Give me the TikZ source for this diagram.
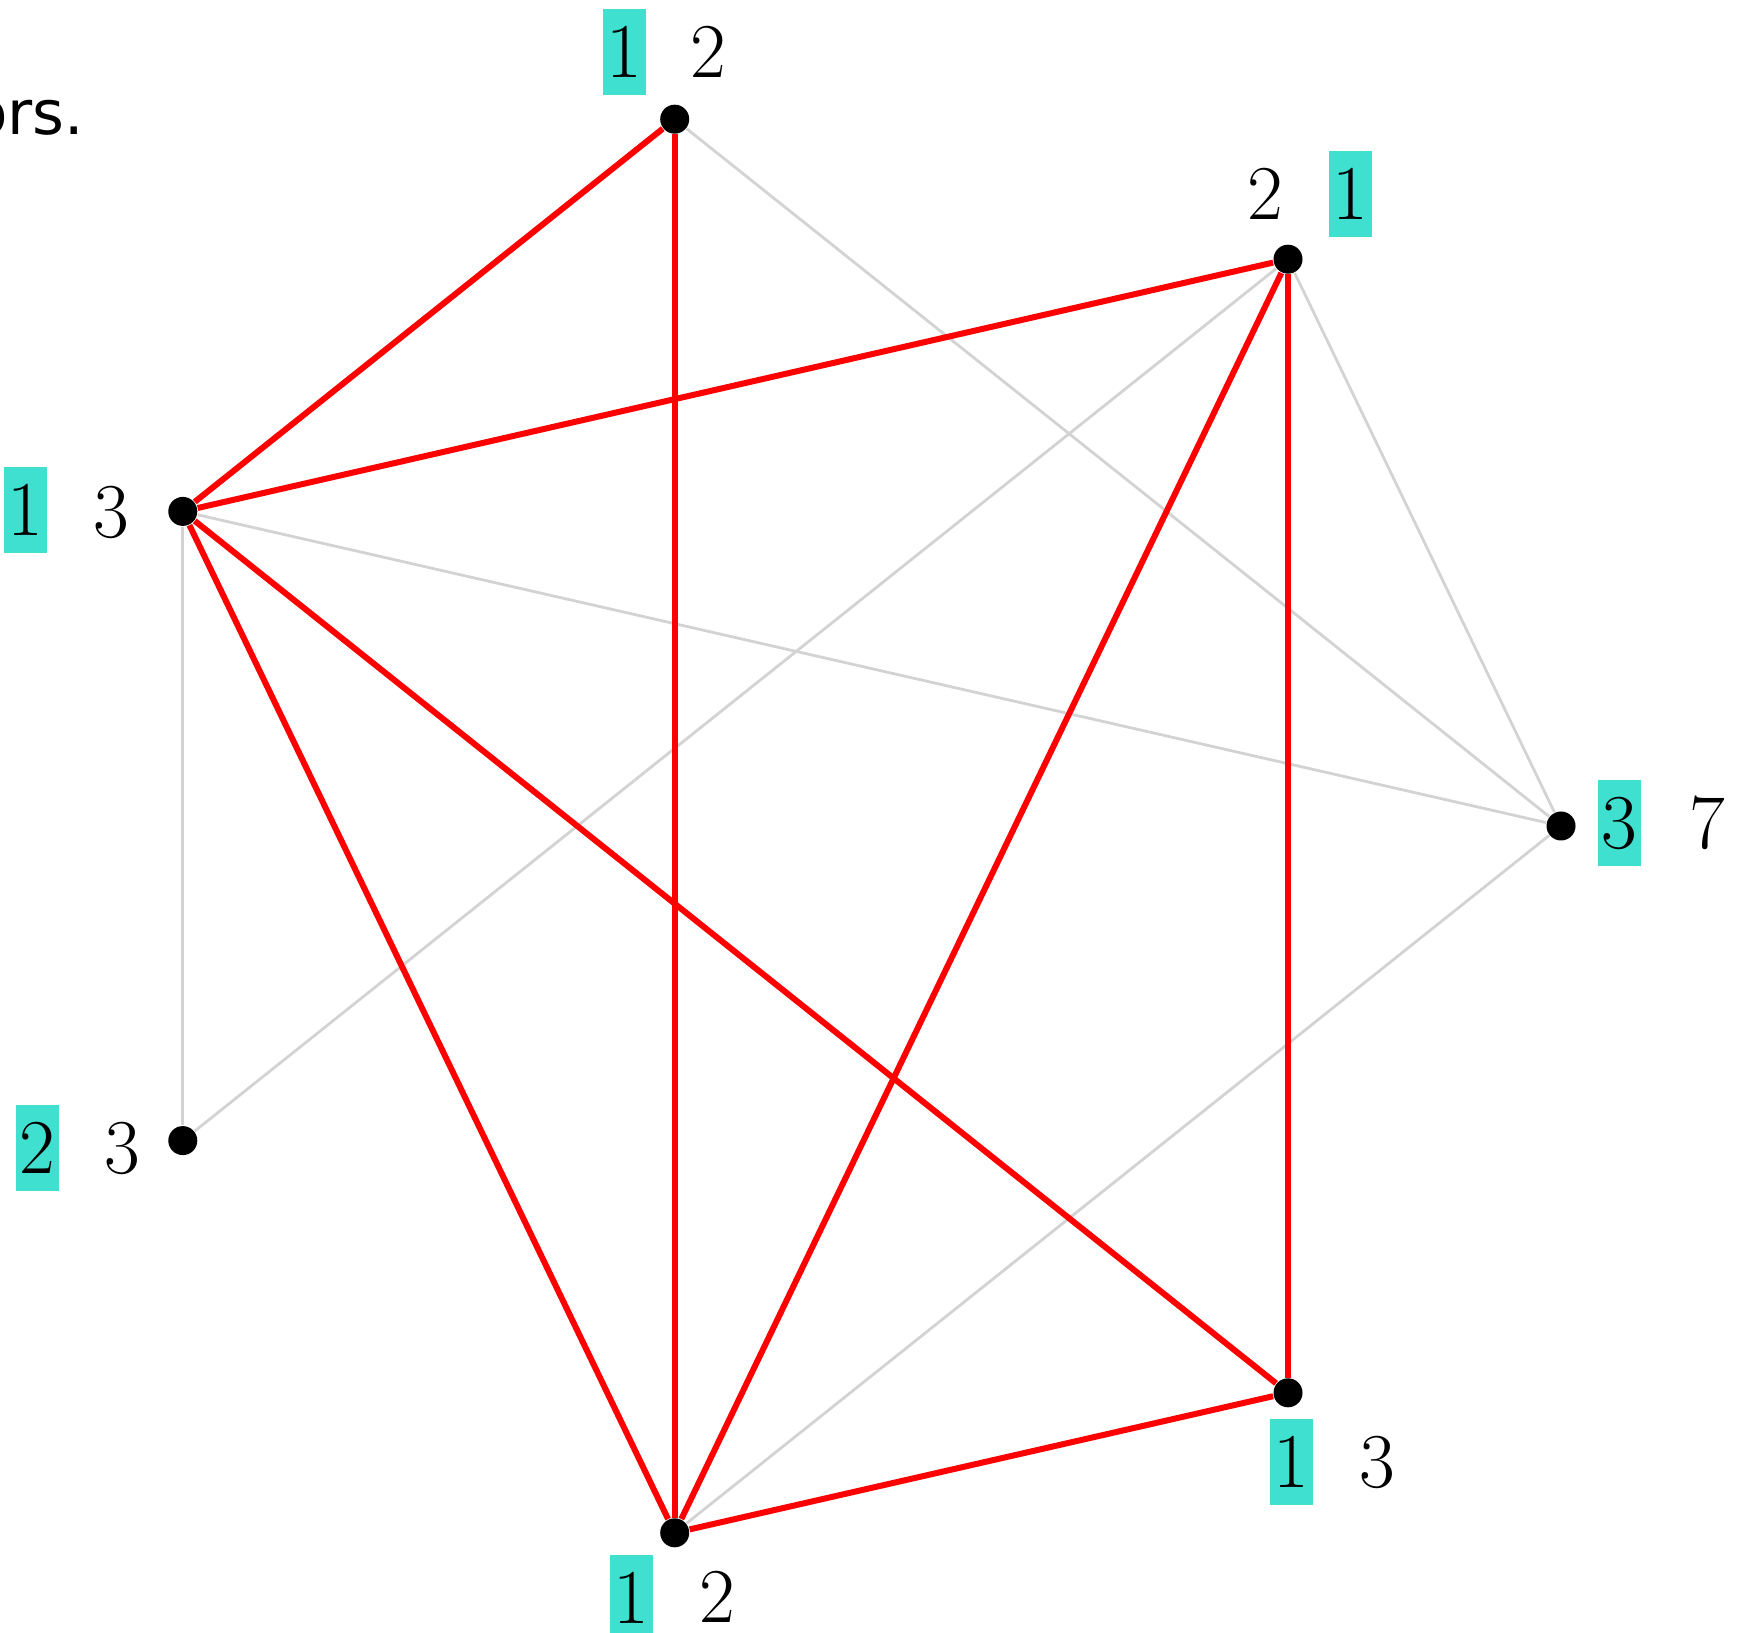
\documentclass[tikz,border=0pt]{standalone}
\usepackage{fontspec}
\newfontfamily\dejavu{DejaVu Sans}
\definecolor{boxcyan}{RGB}{64,224,208}
\definecolor{edgegray}{RGB}{211,211,211}
\begin{document}
\begin{tikzpicture}[x=0.25pt,y=-0.25pt,
  dot/.style={circle,fill=black,inner sep=0pt,minimum size=7.25pt},
  redge/.style={draw=red,line width=1.5pt},
  gedge/.style={draw=edgegray,line width=0.7pt},
  numlabel/.style={inner sep=0pt,font=\fontsize{19.4}{23}\selectfont},
  boxlabel/.style={numlabel,fill=boxcyan,minimum width=10.75pt,minimum height=21.5pt}]
\useasboundingbox (0,0) rectangle (1742,1633);
\clip (0,0) rectangle (1742,1633);
% caption fragment
\node[anchor=base east,inner sep=0pt,font=\dejavu\fontsize{15.3}{18}\selectfont] (cap) at (85,135) {ors.};
% vertices
\node[dot] (D) at (1561,826) {};
\node[dot] (B) at (1288,259.2) {};
\node[dot] (A) at (674.7,119.2) {};
\node[dot] (C) at (182.8,511.4) {};
\node[dot] (E) at (182.8,1140.6) {};
\node[dot] (G) at (674.7,1532.8) {};
\node[dot] (F) at (1288,1392.8) {};
% gray edges
\draw[gedge] (A) -- (D);
\draw[gedge] (B) -- (E);
\draw[gedge] (B) -- (D);
\draw[gedge] (C) -- (D);
\draw[gedge] (C) -- (E);
\draw[gedge] (D) -- (G);
% red edges
\draw[redge] (A) -- (C);
\draw[redge] (A) -- (G);
\draw[redge] (C) -- (B);
\draw[redge] (C) -- (G);
\draw[redge] (C) -- (F);
\draw[redge] (B) -- (G);
\draw[redge] (B) -- (F);
\draw[redge] (G) -- (F);
% labels
\node[boxlabel] (Ab) at (624.5,52) {1};
\node[numlabel] (An) at (708,52) {2};
\node[numlabel] (Bn) at (1265,194) {2};
\node[boxlabel] (Bb) at (1350.5,194) {1};
\node[boxlabel] (Cb) at (25.5,510) {1};
\node[numlabel] (Cn) at (111,512) {3};
\node[boxlabel] (Db) at (1619.5,823) {3};
\node[numlabel] (Dn) at (1707,823) {7};
\node[boxlabel] (Eb) at (37.5,1148) {2};
\node[numlabel] (En) at (122,1148) {3};
\node[boxlabel] (Gb) at (631.5,1598) {1};
\node[numlabel] (Gn) at (717,1597) {2};
\node[boxlabel] (Fb) at (1291,1462) {1};
\node[numlabel] (Fn) at (1377,1462) {3};
\end{tikzpicture}
\end{document}
